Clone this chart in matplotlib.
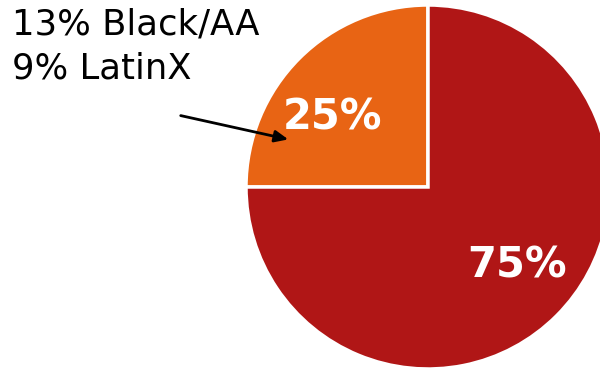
import matplotlib
matplotlib.use("Agg")
import matplotlib.pyplot as plt

shares = [25, 75]
share_labels = ["25%", "75%"]
colors = ["#E86414", "#B01616"]
annotation = "13% Black/AA\n9% LatinX"

fig = plt.figure(figsize=(6.0, 3.73), dpi=100)
ax = fig.add_axes([0, 0, 1, 1])

cx, cy, r = 428, 186, 182
wedges, _ = ax.pie(shares, colors=colors, startangle=90, counterclock=True,
                   center=(cx, cy), radius=r, frame=True,
                   wedgeprops=dict(edgecolor="white", linewidth=2.5))
ax.set_xlim(0, 600)
ax.set_ylim(0, 373)
ax.set_aspect("equal")
ax.axis("off")

ax.text(333, 255, share_labels[0], color="white", fontsize=30, fontweight="bold",
        ha="center", va="center", family="DejaVu Sans")
ax.text(517, 108, share_labels[1], color="white", fontsize=30, fontweight="bold",
        ha="center", va="center", family="DejaVu Sans")

ax.text(12, 373 - 8, annotation, color="black", fontsize=25.5, ha="left", va="top",
        linespacing=1.35, family="DejaVu Sans")
ax.annotate("", xy=(291, 373 - 140), xytext=(178, 373 - 115),
            arrowprops=dict(arrowstyle="-|>,head_length=0.8,head_width=0.35",
                            color="black", lw=2))

fig.savefig("out.png", dpi=100)
